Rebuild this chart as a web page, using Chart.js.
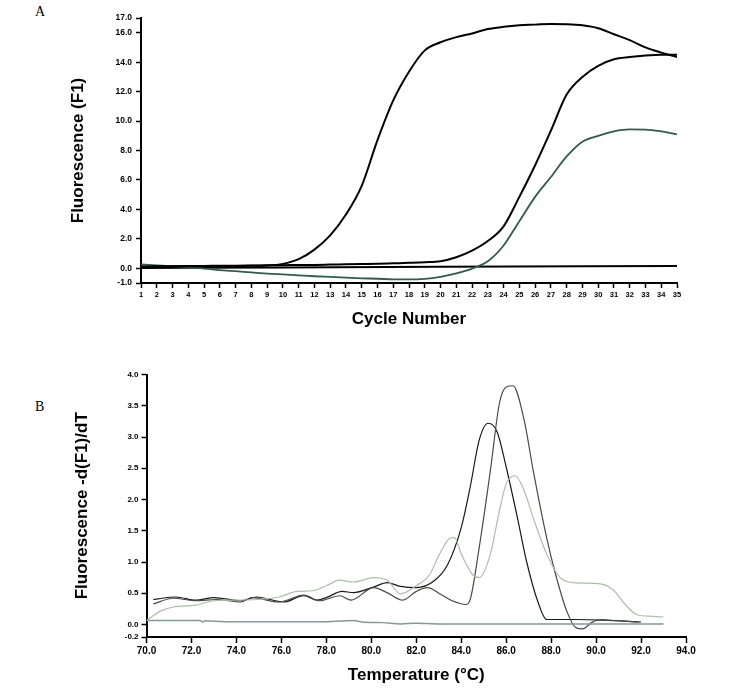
<!DOCTYPE html>
<html>
<head>
<meta charset="utf-8">
<title>Amplification and melt curves</title>
<script src="https://cdn.jsdelivr.net/npm/chart.js@4.4.1/dist/chart.umd.min.js"></script>
<style>
    body { margin: 0; background: #fff; }
    #page { position: relative; width: 753px; height: 698px; }
    .panel { position: absolute; left: 0; width: 753px; }
    #boxA { top: 0; height: 345px; }
    #boxB { top: 360px; height: 338px; }
    .tag { position: absolute; left: 35px; font-family: 'Liberation Serif', 'DejaVu Serif', serif; font-size: 14px; color: #000; }
</style>
</head>
<body>
<div id="page">
    <div class="tag" style="top: 4px;">A</div>
    <div class="tag" style="top: 399px;">B</div>
    <div class="panel" id="boxA"><canvas id="chartA" width="753" height="345"></canvas></div>
    <div class="panel" id="boxB"><canvas id="chartB" width="753" height="338"></canvas></div>
</div>

<script>
// Panel A - amplification curves, one value per cycle
let cycles = [1, 2, 3, 4, 5, 6, 7, 8, 9, 10, 11, 12, 13, 14, 15, 16, 17, 18, 19, 20,
    21, 22, 23, 24, 25, 26, 27, 28, 29, 30, 31, 32, 33, 34, 35];
let earlySample = [0.10, 0.11, 0.12, 0.13, 0.14, 0.15, 0.16, 0.17, 0.19, 0.30, 0.62, 1.27, 2.24, 3.65, 5.6, 8.7, 11.4, 13.35, 14.8, 15.35,
    15.7, 15.95, 16.25, 16.4, 16.5, 16.55, 16.6, 16.58, 16.5, 16.3, 15.9, 15.5, 15.0, 14.65, 14.35];
let lateSample = [0.12, 0.13, 0.14, 0.15, 0.16, 0.17, 0.18, 0.19, 0.20, 0.21, 0.22, 0.23, 0.25, 0.27, 0.29, 0.31, 0.34, 0.37, 0.41, 0.48,
    0.75, 1.2, 1.85, 2.85, 4.85, 7.0, 9.35, 11.8, 13.0, 13.75, 14.2, 14.35, 14.45, 14.5, 14.5];
let greenSample = [0.27, 0.20, 0.13, 0.05, -0.02, -0.12, -0.20, -0.28, -0.36, -0.42, -0.48, -0.54, -0.59, -0.64, -0.68, -0.71, -0.75, -0.76, -0.72, -0.58,
    -0.35, -0.02, 0.48, 1.55, 3.2, 4.85, 6.2, 7.6, 8.6, 9.0, 9.3, 9.43, 9.42, 9.3, 9.1];
let blankCycles = [1, 10, 20, 35];
let blankSample = [0.02, 0.06, 0.10, 0.15];
let fluorTicks = [-1, 0, 2, 4, 6, 8, 10, 12, 14, 16, 17];

// Panel B - melt curves (temperature, -dF/dT)
let blackTemp = [70.3, 71.3, 72.2, 73.0, 74.2, 74.9, 76.1, 77.0, 77.6, 78.0, 78.7, 79.2, 80.1, 80.7, 81.3, 82.0, 82.8, 83.4, 84.0, 84.4,
    84.8, 85.2, 85.6, 86.0, 86.5, 86.9, 87.4, 87.8, 88.7, 89.1, 90.3, 92.0];
let blackMelt = [0.40, 0.44, 0.39, 0.43, 0.38, 0.44, 0.36, 0.46, 0.39, 0.43, 0.53, 0.51, 0.60, 0.67, 0.61, 0.59, 0.70, 0.96, 1.55, 2.2,
    2.95, 3.22, 3.08, 2.52, 1.71, 1.02, 0.375, 0.08, 0.08, 0.08, 0.07, 0.04];
let grayTemp = [70.3, 71.2, 72.2, 73.1, 74.2, 74.7, 75.9, 77.0, 77.7, 78.6, 79.1, 80.1, 80.7, 81.4, 82.0, 82.5, 83.1, 83.6, 84.2, 84.4,
    84.8, 85.3, 85.7, 86.0, 86.3, 86.8, 87.2, 87.8, 88.2, 88.7, 89.1, 89.4, 89.8, 90.2, 90.5, 91.0, 91.9];
let grayMelt = [0.33, 0.42, 0.38, 0.40, 0.36, 0.43, 0.36, 0.47, 0.38, 0.46, 0.39, 0.59, 0.51, 0.39, 0.53, 0.59, 0.48, 0.38, 0.32, 0.40,
    1.23, 2.47, 3.54, 3.80, 3.82, 3.27, 2.47, 1.39, 0.80, 0.21, -0.05, -0.07, 0.03, 0.08, 0.07, 0.06, 0.04];
let lightTemp = [70.0, 70.6, 71.2, 72.2, 73.0, 73.9, 74.9, 75.9, 76.7, 77.4, 78.0, 78.6, 79.2, 80.1, 80.7, 81.3, 82.0, 82.6, 83.0, 83.5,
    83.7, 84.0, 84.5, 84.8, 85.3, 85.7, 86.0, 86.4, 86.8, 87.2, 87.8, 88.4, 89.0, 90.2, 90.8, 91.3, 91.8, 92.5, 93.0];
let lightMelt = [0.065, 0.21, 0.28, 0.31, 0.38, 0.39, 0.40, 0.44, 0.53, 0.54, 0.62, 0.71, 0.68, 0.75, 0.71, 0.49, 0.62, 0.80, 1.10, 1.38,
    1.39, 1.13, 0.80, 0.75, 1.13, 1.82, 2.25, 2.38, 2.14, 1.71, 1.13, 0.75, 0.67, 0.65, 0.54, 0.32, 0.16, 0.13, 0.12];
let flatTemp = [70.0, 72.4, 72.5, 72.6, 73.5, 78.0, 79.2, 79.6, 80.5, 81.3, 82.0, 83.0, 93.0];
let flatMelt = [0.065, 0.065, 0.04, 0.06, 0.045, 0.045, 0.065, 0.04, 0.03, 0.01, 0.02, 0.01, 0.01];
let meltTicks = [-0.2, 0, 0.5, 1, 1.5, 2, 2.5, 3, 3.5, 4];
let tempTicks = [70, 72, 74, 76, 78, 80, 82, 84, 86, 88, 90, 92, 94];

let sansFont = "'Liberation Sans', Arial, sans-serif";

function toPoints(xs, ys) {
    return xs.map((x, i) => ({ x: x, y: ys[i] }));
}

function lineSet(xs, ys, color, width) {
    return {
        data: toPoints(xs, ys),
        borderColor: color,
        borderWidth: width,
        pointRadius: 0,
        fill: false,
        cubicInterpolationMode: 'monotone'
    };
}

function axis(opts) {
    // black axis line with short outward tick marks, no gridlines
    return {
        type: 'linear',
        min: opts.min,
        max: opts.max,
        border: { display: true, color: '#000', width: 2 },
        grid: { display: true, drawOnChartArea: false, drawTicks: true, tickLength: opts.tickLength, tickWidth: 1.5, tickColor: '#000' },
        ticks: {
            color: '#000',
            autoSkip: false,
            maxRotation: 0,
            padding: opts.padding,
            font: { family: sansFont, size: opts.fontSize, weight: 'bold' },
            callback: opts.format
        },
        title: {
            display: true,
            text: opts.title,
            color: '#000',
            font: { family: sansFont, size: 17, weight: 'bold' },
            padding: opts.titlePadding
        },
        afterBuildTicks: function (scale) {
            scale.ticks = opts.tickValues.map(v => ({ value: v }));
        },
        afterFit: function (scale) {
            if (opts.width) scale.width = opts.width;
            if (opts.height) scale.height = opts.height;
        }
    };
}

function makeChart(id, datasets, xAxis, yAxis, padding) {
    let ctx = document.getElementById(id).getContext('2d');
    return new Chart(ctx, {
        type: 'line',
        data: { datasets: datasets },
        options: {
            responsive: false,
            animation: false,
            devicePixelRatio: 1,
            layout: { padding: padding },
            plugins: { legend: { display: false }, tooltip: { enabled: false } },
            scales: { x: xAxis, y: yAxis }
        }
    });
}

document.addEventListener('DOMContentLoaded', function () {

    makeChart('chartA', [
        lineSet(cycles, earlySample, '#000', 2),
        lineSet(cycles, lateSample, '#000', 2),
        lineSet(cycles, greenSample, '#2f5d4c', 1.8),
        lineSet(blankCycles, blankSample, '#000', 2)
    ],
    axis({ min: 1, max: 35, tickValues: cycles, tickLength: 5, padding: 2, fontSize: 7.5,
        format: v => v, title: 'Cycle Number', titlePadding: { top: 0, bottom: 15 }, height: 62 }),
    axis({ min: -1, max: 17, tickValues: fluorTicks, tickLength: 5, padding: 4, fontSize: 8.5,
        format: v => v.toFixed(1), title: 'Fluorescence (F1)', titlePadding: { top: 68, bottom: 0 }, width: 141 }),
    { left: 0, right: 76, top: 18, bottom: 0 });

    makeChart('chartB', [
        lineSet(flatTemp, flatMelt, '#7f9a98', 1.5),
        lineSet(lightTemp, lightMelt, '#a9c0a6', 1.2),
        lineSet(grayTemp, grayMelt, '#4a4a4a', 1.2),
        lineSet(blackTemp, blackMelt, '#1a1a1a', 1.2)
    ],
    axis({ min: 70, max: 94, tickValues: tempTicks, tickLength: 6, padding: 2, fontSize: 10,
        format: v => v.toFixed(1), title: 'Temperature (°C)', titlePadding: { top: 0, bottom: 12 }, height: 61 }),
    axis({ min: -0.2, max: 4, tickValues: meltTicks, tickLength: 5, padding: 3, fontSize: 8,
        format: v => v.toFixed(1), title: 'Fluorescence -d(F1)/dT', titlePadding: { top: 72, bottom: 0 }, width: 146.5 }),
    { left: 0, right: 67, top: 14.5, bottom: 0 });
});
</script>
</body>
</html>
